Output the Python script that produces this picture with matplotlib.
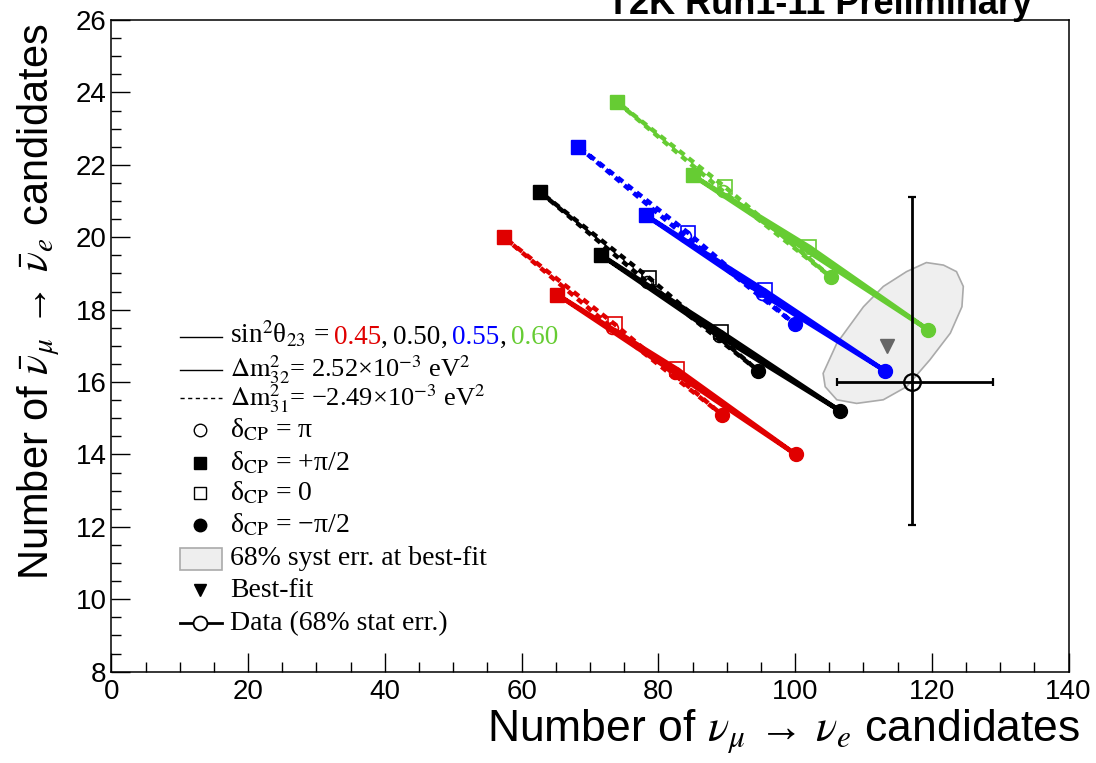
import matplotlib
matplotlib.use('Agg')
import matplotlib.pyplot as plt
from matplotlib.ticker import MultipleLocator
from matplotlib.patches import Rectangle, Polygon

plt.rcParams['font.family'] = ['Liberation Sans', 'DejaVu Sans']
plt.rcParams['mathtext.fontset'] = 'stix'

# sin^2(theta23) values and their colours
sin2 = ['0.45', '0.50', '0.55', '0.60']
cols = ['#e00000', 'black', '#0000ff', '#66cc33']

# normal hierarchy (solid): points at dCP = +pi/2, 0, pi, -pi/2
nh_p2_x = [65.25, 71.65, 78.2, 85.0]
nh_p2_y = [18.41, 19.50, 20.60, 21.71]
nh_0_x = [82.8, 89.2, 95.55, 102.1]
nh_0_y = [16.35, 17.38, 18.53, 19.73]
nh_pi_x = [82.4, 88.8, 95.15, 101.7]
nh_pi_y = [16.25, 17.28, 18.43, 19.63]
nh_m2_x = [100.1, 106.6, 113.15, 119.4]
nh_m2_y = [14.00, 15.20, 16.31, 17.45]

# inverted hierarchy (dashed)
ih_p2_x = [57.4, 62.7, 68.3, 74.0]
ih_p2_y = [20.00, 21.25, 22.50, 23.73]
ih_0_x = [73.6, 78.7, 84.3, 89.8]
ih_0_y = [17.60, 18.87, 20.13, 21.38]
ih_pi_x = [73.2, 78.3, 83.9, 89.4]
ih_pi_y = [17.50, 18.77, 20.03, 21.28]
ih_m2_x = [89.35, 94.6, 100.0, 105.3]
ih_m2_y = [15.09, 16.31, 17.59, 18.89]

# best fit, data with stat errors
bf_x, bf_y = 113.4, 17.0
data_x, data_y = 117.1, 16.0
data_xerr = [10.9, 11.9]
data_yerr = [3.95, 5.1]

# 68% syst contour
syst_x = [104.1, 106.1, 110.0, 112.9, 116.3, 119.2, 121.7, 123.6, 124.6, 124.4,
          122.7, 119.7, 116.3, 112.9, 109.0, 106.1, 104.4]
syst_y = [16.24, 17.07, 18.08, 18.64, 19.05, 19.30, 19.23, 19.05, 18.64, 18.08,
          17.35, 16.61, 15.87, 15.51, 15.41, 15.51, 15.87]

fig = plt.figure(figsize=(10.96, 7.63), dpi=100)
ax = fig.add_axes([0.1016, 0.1197, 0.8734, 0.8541])

ax.add_patch(Polygon(list(zip(syst_x, syst_y)), closed=True, fc='#efefef', ec='#aaaaaa', lw=1.2, zorder=1))

for i in range(4):
    c = cols[i]
    # dashed IH loop
    lx = [ih_p2_x[i], ih_pi_x[i], ih_m2_x[i], ih_0_x[i], ih_p2_x[i]]
    ly = [ih_p2_y[i], ih_pi_y[i], ih_m2_y[i], ih_0_y[i], ih_p2_y[i]]
    ax.plot(lx, ly, color=c, lw=3.2, dashes=(1.5, 1.2), zorder=2)
    lx = [nh_p2_x[i], nh_pi_x[i], nh_m2_x[i], nh_0_x[i], nh_p2_x[i]]
    ly = [nh_p2_y[i], nh_pi_y[i], nh_m2_y[i], nh_0_y[i], nh_p2_y[i]]
    ax.plot(lx, ly, color=c, lw=3.3, zorder=3)
    for px, py in [(ih_p2_x, ih_p2_y), (nh_p2_x, nh_p2_y)]:
        ax.plot(px[i], py[i], 's', color=c, ms=10, zorder=4)
    for px, py in [(ih_m2_x, ih_m2_y), (nh_m2_x, nh_m2_y)]:
        ax.plot(px[i], py[i], 'o', color=c, ms=10, zorder=4)
    for px, py in [(ih_0_x, ih_0_y), (nh_0_x, nh_0_y)]:
        ax.plot(px[i], py[i], 's', mfc='none', mec=c, mew=1.2, ms=9.5, zorder=4)
    for px, py in [(ih_pi_x, ih_pi_y), (nh_pi_x, nh_pi_y)]:
        ax.plot(px[i], py[i], 'o', mfc='none', mec=c, mew=1.2, ms=8.5, zorder=4)

ax.plot(bf_x, bf_y, 'v', color='#666666', ms=10, zorder=5)
ax.errorbar(data_x, data_y, xerr=[[data_xerr[0]], [data_xerr[1]]],
            yerr=[[data_yerr[0]], [data_yerr[1]]], fmt='o', mfc='none', mec='black',
            mew=1.6, ms=12, color='black', elinewidth=2, capsize=3, capthick=2, zorder=6)

ax.set_xlim(0, 140)
ax.set_ylim(8, 26)
ax.xaxis.set_major_locator(MultipleLocator(20))
ax.xaxis.set_minor_locator(MultipleLocator(5))
ax.yaxis.set_major_locator(MultipleLocator(2))
ax.yaxis.set_minor_locator(MultipleLocator(0.5))
ax.tick_params(which='both', direction='in', top=False, right=False, labelsize=20)
ax.tick_params(which='major', length=13.5, width=1)
ax.tick_params(which='minor', length=7, width=1)
ax.tick_params(axis='x', pad=5)
for s in ax.spines.values():
    s.set_linewidth(1.1)

ax.set_xlabel(r'Number of $\nu_{\mu}$ → $\nu_{e}$ candidates', fontsize=32, loc='right')
ax.set_ylabel(r'Number of $\bar{\nu}_{\mu}$ → $\bar{\nu}_{e}$ candidates', fontsize=30, loc='top')
ax.xaxis.set_label_coords(1.012, -0.054)
ax.xaxis.label.set_va('top')
ax.yaxis.set_label_coords(-0.052, 0.994)

fig.text(1032 / 1096, 1 - 14 / 763, 'T2K Run1-11 Preliminary', ha='right', va='baseline',
         fontsize=26, fontweight='bold')

# legend drawn by hand
tr = ax.transAxes
def fx(px):
    return (px - 111.4) / 957.2
def fy(py):
    return (671.7 - py) / 651.7

rows = [336.7, 370, 398.3, 430, 463.3, 493.3, 525, 558.3, 590, 623.3]
lx0, lx1, mx, tx = fx(180), fx(222), fx(200), fx(230)
serif = ['Liberation Serif', 'DejaVu Serif']
fs = 20
base = 7

ax.plot([lx0, lx1], [fy(rows[0])] * 2, color='black', lw=1, transform=tr, clip_on=False)
ax.plot([lx0, lx1], [fy(rows[1])] * 2, color='black', lw=1, transform=tr, clip_on=False)
ax.plot([lx0, lx1], [fy(rows[2])] * 2, color='black', lw=1, dashes=(3, 2.5), transform=tr, clip_on=False)
ax.plot(mx, fy(rows[3]), 'o', mfc='none', mec='black', ms=9, mew=1, transform=tr, clip_on=False)
ax.plot(mx, fy(rows[4]), 's', color='black', ms=9, transform=tr, clip_on=False)
ax.plot(mx, fy(rows[5]), 's', mfc='none', mec='black', ms=9, mew=1, transform=tr, clip_on=False)
ax.plot(mx, fy(rows[6]), 'o', color='black', ms=9, transform=tr, clip_on=False)
ax.add_patch(Rectangle((lx0, fy(570)), lx1 - lx0, fy(548) - fy(570), transform=tr,
                       fc='#eeeeee', ec='#aaaaaa', lw=1.2, clip_on=False))
ax.plot(mx, fy(rows[8]), 'v', color='black', ms=8, transform=tr, clip_on=False)
ax.plot([lx0, lx1], [fy(rows[9])] * 2, color='black', lw=2, transform=tr, clip_on=False)
ax.plot(mx, fy(rows[9]), 'o', mfc='white', mec='black', ms=10, mew=1.3, transform=tr, clip_on=False)

labels = [None,
          r'$\Delta$$\mathrm{m}^{2}_{32}$= 2.52×10$^{-3}$ eV$^{2}$',
          r'$\Delta$$\mathrm{m}^{2}_{31}$= −2.49×10$^{-3}$ eV$^{2}$',
          r'δ$_{\mathrm{CP}}$ = π',
          r'δ$_{\mathrm{CP}}$ = +π/2',
          r'δ$_{\mathrm{CP}}$ = 0',
          r'δ$_{\mathrm{CP}}$ = −π/2',
          '68% syst err. at best-fit',
          'Best-fit',
          'Data (68% stat err.)']
sizes = [fs, 19, 19, fs, fs, fs, fs, fs, fs, fs]
for r, lab, s in zip(rows[1:], labels[1:], sizes[1:]):
    ax.text(tx, fy(r + base), lab, transform=tr, fontsize=s, family=serif, va='baseline')

# first row, several colours
pieces = [(r'sin$^{2}$θ$_{23}$ =', 'black'), (sin2[0], cols[0]), (',', 'black'),
          (sin2[1], cols[1]), (',', 'black'), (sin2[2], cols[2]), (',', 'black'),
          (sin2[3], cols[3])]
gaps = [5, 0, 5, 0, 5, 0, 5, 0]
renderer = fig.canvas.get_renderer()
xpix = ax.transAxes.transform((tx, 0))[0]
for (txt, c), g in zip(pieces, gaps):
    xa = ax.transAxes.inverted().transform((xpix, 0))[0]
    t = ax.text(xa, fy(rows[0] + base), txt, transform=tr, fontsize=19.5, family=serif,
                va='baseline', color=c)
    bb = t.get_window_extent(renderer)
    xpix = bb.x1 + g

fig.savefig('out.png', dpi=100)
